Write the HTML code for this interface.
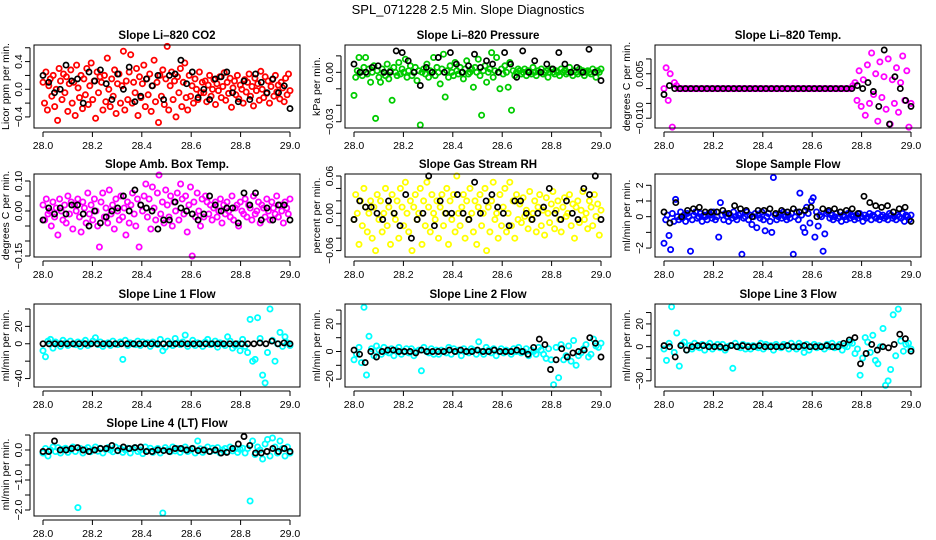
<!DOCTYPE html>
<html><head><meta charset="utf-8"><style>
body{margin:0;background:#fff}
svg{display:block;font-family:"Liberation Sans",Arial,sans-serif}
</style></head><body>
<svg id="c" width="936" height="540" viewBox="0 0 936 540">
<text x="468" y="14" text-anchor="middle" font-size="13">SPL_071228  2.5 Min. Slope Diagnostics</text>
</svg>
<script>
const xTicks=[28.0,28.2,28.4,28.6,28.8,29.0];
const co2Color=[0.1,-0.2,0.25,-0.3,0.05,0.15,-0.1,0.2,-0.25,0.0,-0.45,0.3,0.12,-0.15,0.22,-0.05,0.18,-0.32,0.08,0.28,-0.2,0.1,-0.38,0.35,0.02,-0.12,0.2,-0.28,0.15,-0.08,0.3,-0.22,0.05,0.38,-0.15,0.12,-0.42,0.25,-0.05,0.18,0.1,-0.3,0.2,-0.18,0.45,0.0,-0.25,0.15,-0.1,0.28,-0.35,0.08,0.22,-0.2,0.05,0.55,-0.3,0.12,-0.15,0.25,0.5,-0.2,0.1,-0.05,0.3,-0.38,0.18,-0.12,0.08,0.35,-0.25,0.15,-0.08,0.22,-0.32,0.05,0.42,-0.18,0.1,-0.48,0.2,-0.1,0.28,-0.22,0.15,0.62,-0.3,0.05,0.25,-0.15,0.12,-0.4,0.18,-0.05,0.3,-0.25,0.1,0.38,-0.12,-0.3,0.2,-0.1,0.05,-0.2,0.15,0.0,-0.15,0.25,-0.05,0.1,
 -0.05,0.12,-0.18,0.06,0.2,-0.1,0.0,0.14,-0.22,0.08,-0.02,0.18,-0.12,0.04,0.24,-0.16,0.1,-0.06,0.16,-0.26,0.02,0.12,-0.08,0.2,-0.14,0.06,0.0,-0.2,0.14,-0.04,0.1,0.22,-0.1,0.04,-0.24,0.16,-0.02,0.08,-0.16,0.26,0.0,-0.12,0.18,-0.06,0.12,-0.2,0.04,0.14,-0.1,0.2,-0.04,0.06,-0.14,0.1,0.02,-0.18,0.16,-0.08,0.22,-0.02];
const co2Black=[0.2,0.1,-0.05,0.0,0.35,0.12,0.15,-0.2,0.25,0.12,0.28,0.08,-0.15,0.22,0.0,0.32,-0.18,-0.1,0.15,0.05,0.2,-0.15,0.2,0.22,0.42,0.08,0.25,-0.12,0.0,-0.15,0.15,0.18,0.25,-0.05,-0.18,0.12,-0.15,0.22,0.1,-0.05,0.15,-0.05,0.05,-0.28];
const presColor=[-0.014,-0.003,0.001,0.009,0.0,-0.002,0.003,0.009,-0.001,0.002,-0.006,0.0,0.004,-0.028,0.001,-0.003,-0.006,0.002,0.0,-0.002,0.005,-0.004,0.001,-0.017,0.003,0.0,-0.002,0.006,-0.001,0.002,0.0,0.008,-0.003,0.001,0.004,-0.002,0.0,0.003,-0.005,0.001,-0.032,0.0,0.002,-0.001,0.005,-0.003,0.001,0.0,0.009,-0.002,0.003,0.0,-0.007,0.002,0.011,-0.015,0.001,-0.003,0.004,0.0,-0.002,0.006,0.001,-0.001,0.003,0.0,-0.004,0.002,0.007,-0.001,0.0,0.002,-0.009,0.003,0.0,0.008,-0.002,-0.026,0.001,0.004,-0.006,0.0,0.002,0.012,-0.003,0.001,0.009,0.0,-0.010,0.002,-0.001,0.004,0.0,-0.009,0.006,-0.023,0.001,-0.002,0.0,0.002,
 0.001,-0.001,0.0,0.002,-0.002,0.001,0.0,-0.001,0.003,0.0,-0.002,0.001,0.0,0.002,-0.001,0.0,0.001,-0.003,0.0,0.002,0.0,-0.001,0.001,0.0,-0.002,0.002,0.0,0.001,-0.001,0.0,0.003,0.0,-0.002,0.001,0.0,-0.001,0.002,0.0,0.001,-0.002,0.0,0.001,0.0,-0.001,0.002,0.0,-0.003,0.001,0.0,0.002];
const presBlack=[0.005,0.0,0.0,0.003,0.004,0.0,0.0,0.013,0.012,0.007,0.0,-0.008,0.003,0.0,0.009,0.0,0.012,0.005,0.0,0.004,0.011,0.003,0.007,0.005,0.0,0.012,0.005,-0.003,0.013,0.0,0.007,0.0,0.005,0.002,0.012,0.005,0.0,0.003,0.0,0.014,0.0,-0.005];
const tempColor=[0.0,0.007,-0.004,0.005,-0.013,0.002,0.001,0,0,0,0,0,0,0,0,0,0,0,0,0,0,0,0,0,0,0,0,0,0,0,0,0,0,0,0,0,0,0,0,0,0,0,0,0,0,0,0,0,0,0,0,0,0,0,0,0,0,0,0,0,0,0,0,0,0,0,0,0,0,0,0,0,0,0,0,0,0,0,0,0,0,0,0,0,0,0,0,0,0,0,0,0.001,0.002,-0.004,0.006,-0.006,0.003,-0.009,0.008,-0.005,0.012,-0.002,0.005,-0.011,0.009,-0.003,0.004,-0.007,0.01,-0.012,0.003,-0.005,0.007,-0.008,0.002,0.011,-0.004,0.006,-0.013,-0.005];
const tempBlack=[-0.002,0.001,0,0,0,0,0,0,0,0,0,0,0,0,0,0,0,0,0,0,0,0,0,0,0,0,0,0,0,0,0,0,0,0,0,0,0.001,0.0,0.002,-0.001,-0.006,0.013,-0.012,0.004,0.0,-0.004,-0.006];
const ambColor=[0.02,-0.03,0.04,-0.01,0.0,-0.05,0.03,-0.02,0.01,-0.08,0.04,0.0,-0.03,0.02,-0.04,0.05,-0.01,0.03,-0.06,0.02,0.0,0.04,-0.02,-0.07,0.03,0.01,-0.04,0.06,-0.01,0.02,-0.03,0.04,0.0,-0.05,-0.12,0.03,0.06,-0.02,0.01,-0.04,0.07,-0.01,0.02,-0.06,0.04,0.0,-0.03,0.05,-0.02,0.01,-0.08,0.03,-0.04,0.02,0.06,-0.01,-0.05,0.04,-0.12,0.02,0.0,0.05,0.09,-0.02,0.04,-0.06,0.08,0.01,-0.03,0.06,0.12,-0.01,0.03,-0.04,0.07,0.02,-0.02,0.05,-0.05,0.03,0.0,0.06,-0.03,0.09,0.04,-0.01,0.05,-0.07,0.02,0.08,-0.15,0.03,-0.02,0.06,0.0,-0.05,0.04,-0.02,0.05,0.03,
 -0.01,0.02,-0.03,0.01,0.03,-0.02,0.0,0.04,-0.04,0.02,-0.01,0.03,0.0,-0.02,0.05,-0.03,0.01,0.02,-0.05,0.03,0.0,-0.01,0.04,-0.02,0.02,0.01,-0.03,0.05,-0.01,0.0,0.03,-0.04,0.02,0.01,-0.02,0.04,0.0,-0.03,0.03,0.01,-0.01,0.05,-0.02,0.02,0.0,-0.04,0.03,0.01,-0.01,0.04];
const ambBlack=[-0.03,0.01,-0.01,0.01,-0.01,0.02,0.02,-0.01,-0.05,0.0,-0.04,-0.02,0.0,0.01,0.05,0.0,0.07,0.02,0.01,0.0,-0.06,-0.03,-0.03,0.03,0.01,0.0,-0.01,-0.03,-0.01,0.05,0.02,0.0,0.01,0.01,-0.04,0.06,0.02,0.06,-0.03,0.01,-0.03,0.02,0.02,-0.03];
const rhColor=[-0.01,0.03,0.0,-0.05,0.02,-0.02,0.04,0.01,-0.03,0.0,0.02,-0.04,0.01,-0.06,0.03,-0.01,0.02,-0.03,0.0,0.04,-0.02,0.01,-0.05,0.03,0.0,-0.01,0.02,-0.04,0.04,0.01,-0.02,0.05,0.0,-0.03,0.02,-0.06,0.01,0.03,-0.01,0.0,0.04,-0.05,0.02,-0.02,0.05,0.01,-0.03,0.03,0.0,-0.01,0.02,-0.04,0.01,0.03,-0.02,0.0,0.04,-0.05,0.02,-0.01,0.03,-0.03,0.06,0.0,-0.02,0.01,0.03,-0.04,0.02,-0.01,0.04,0.0,-0.03,0.02,-0.05,0.01,0.03,-0.02,0.0,0.04,-0.06,0.01,-0.03,0.02,0.05,-0.01,0.0,-0.04,0.03,-0.02,0.01,0.04,-0.03,0.0,0.05,-0.02,0.02,-0.04,0.03,-0.01,
 0.015,-0.015,0.025,-0.005,0.005,-0.025,0.035,-0.01,0.0,0.02,-0.03,0.01,0.03,-0.02,0.005,-0.035,0.025,0.0,-0.015,0.015,0.035,-0.025,0.005,0.02,-0.01,-0.03,0.01,0.025,-0.005,0.0,0.03,-0.02,0.015,-0.04,0.01,0.02,-0.015,0.005,0.035,-0.01,0.0,-0.025,0.02,0.01,-0.02,0.03,-0.005,0.015,-0.035,0.005];
const rhBlack=[-0.01,0.02,0.01,0.01,0.0,-0.01,0.02,0.0,-0.02,0.03,-0.04,-0.01,0.0,0.06,-0.02,0.02,0.0,0.0,0.03,0.0,-0.01,0.05,0.0,0.02,0.03,0.01,0.0,-0.02,0.02,0.02,0.0,-0.01,0.0,0.01,0.04,0.0,-0.01,0.02,0.0,-0.01,0.04,0.03,0.06,-0.01];
const flowColor=[-1.7,-0.2,0.1,-1.2,-2.1,0.2,-0.3,1.1,0.0,-0.2,0.3,-0.1,0.1,-0.3,0.2,0.0,-2.2,-0.2,0.1,0.3,-0.1,0.0,0.2,-0.3,0.1,0.0,-0.2,0.2,0.1,-0.1,0.3,-0.2,0.0,-1.3,0.9,0.1,-0.2,0.2,0.0,-0.3,0.1,-0.1,0.3,0.0,-0.2,0.1,0.2,-2.4,-0.1,0.0,0.3,-0.2,0.1,-0.5,0.0,0.2,-0.7,0.1,-0.1,0.3,-0.2,-0.9,0.0,0.2,-0.3,-1.0,2.5,0.1,-0.2,0.0,0.2,-0.1,0.3,0.0,-0.2,0.1,-0.1,0.2,-2.4,0.0,0.3,-0.2,1.5,0.1,-0.7,-1.0,0.6,0.2,-0.4,1.0,1.2,-1.3,0.3,-0.6,0.1,0.0,-2.2,-1.1,0.2,0.3,
 -0.1,0.1,-0.2,0.0,0.2,-0.1,0.0,-0.3,0.1,0.0,-0.2,0.2,-0.1,0.1,0.0,-0.2,0.1,-0.1,0.2,0.0,-0.3,0.1,-0.1,0.0,0.2,-0.2,0.1,0.0,-0.1,0.2,-0.2,0.0,0.1,-0.1,0.0,-0.2,0.2,0.1,-0.1,0.0,-0.2,0.1,0.0,-0.1,0.2,-0.3,0.1,0.0,-0.2,0.1];
const flowBlack=[0.3,-0.4,0.9,0.0,0.4,0.5,0.6,0.3,0.3,0.3,0.4,0.2,0.7,0.5,0.4,0.0,0.4,0.4,0.5,0.2,0.4,0.3,0.5,0.3,0.4,0.6,0.0,0.5,0.4,0.5,0.3,0.4,0.5,0.2,1.3,0.9,0.7,0.6,0.7,0.3,0.5,0.6,-0.3];
const l1Color=[-8,-15,3,5,-5,2,0,-3,4,1,-2,3,0,-1,2,-3,1,4,-2,0,3,7,-1,2,-3,0,1,-2,3,0,-1,2,-18,4,-2,1,0,-1,3,-2,2,0,1,-3,2,0,-1,5,-8,-4,3,0,-2,6,1,-1,2,10,-3,0,4,-2,1,0,-3,2,5,-1,0,3,-4,1,0,-2,8,3,-5,-2,0,-8,5,-3,-10,28,-20,-18,30,6,-36,-45,-10,40,4,-20,0,13,-3,8,1,-2];
const l1Black=[0,0,0,0,0,0,0,0,0,0,0,0,0,0,0,0,0,0,0,0,0,0,0,0,0,0,0,0,0,0,0,0,0,0,0,0,1,0,3,0,1,0];
const l2Color=[-6,-2,3,-8,32,-17,11,2,-3,4,1,-2,3,0,-1,2,-3,1,3,-2,0,2,-1,2,-3,0,1,-14,3,0,-1,2,-2,1,-2,1,0,-1,3,-2,2,0,1,-3,2,0,-1,2,1,-2,7,0,-2,3,1,-1,2,-3,0,2,-1,1,0,-2,2,0,3,-1,0,2,-3,1,0,-2,3,1,-2,-5,2,-6,-24,3,-19,5,-6,-3,4,-7,8,-10,-3,-1,2,5,-4,-2,9,4,3,6];
const l2Black=[1,-2,-8,0,-4,0,1,1,0,0,0,-1,1,0,0,0,0,1,0,1,0,0,1,0,0,1,0,0,0,1,0,-2,3,9,5,-13,-6,2,-4,-1,0,1,10,6,-4];
const l3Color=[-2,-12,3,35,-5,12,-17,2,4,-3,1,-2,3,0,-1,2,-3,1,3,-2,0,2,-1,2,-3,0,1,-19,3,0,-1,2,-2,1,-2,1,0,-1,3,-2,2,0,1,-3,2,0,-1,2,1,-2,3,0,-2,3,1,-5,2,-3,0,2,-1,1,0,-2,2,0,3,-1,0,2,-3,1,0,4,3,-6,-2,-25,-10,8,4,-5,10,-12,-15,0,16,-34,-30,-20,28,-8,33,5,-4,2,3,-2];
const l3Black=[1,0,-9,1,-3,0,1,1,0,0,0,-1,1,0,1,0,0,1,0,0,0,0,1,0,0,1,0,0,0,1,0,0,3,6,8,-15,-6,2,-3,0,-1,2,11,7,-4];
const l4Color=[-0.1,0.05,-0.2,0.0,0.1,-0.05,0.08,-0.1,0.02,0.06,-0.08,0.0,0.1,-0.05,-1.92,0.05,-0.1,0.02,0.08,-0.06,0.0,0.1,-0.04,0.06,-0.1,0.02,0.08,0.0,-0.06,0.1,-0.03,0.05,-0.08,0.0,0.06,-0.1,0.04,0.08,-0.05,0.0,-0.12,0.1,-0.02,0.06,-0.08,0.0,0.05,-0.1,-2.1,0.08,0.0,-0.06,0.1,-0.03,0.05,-0.08,0.02,0.1,-0.05,0.0,0.06,-0.1,0.3,0.04,-0.08,0.0,0.1,-0.05,0.06,-0.02,0.08,-0.1,0.0,0.05,-0.06,0.1,-0.03,0.04,-0.08,0.02,0.06,-0.1,0.05,-1.7,0.3,-0.15,0.1,0.0,-0.3,0.2,0.35,-0.2,0.4,0.1,-0.1,0.3,0.05,-0.2,0.1,-0.1];
const l4Black=[-0.05,-0.05,0.3,0.0,0.0,0.05,0.08,0.0,-0.05,0.0,0.05,0.05,0.15,-0.02,0.1,0.05,0.08,0.1,-0.05,-0.05,0.0,-0.02,-0.05,0.05,0.05,0.0,0.05,-0.02,0.0,-0.05,0.0,-0.1,-0.08,0.05,0.2,0.45,0.15,-0.1,-0.1,-0.05,0.05,-0.05,0.05,-0.05];

const rows=[[45,128],[174,257],[304,387],[433,516]];
const colX0=[43,354,664];
const XW=247;
const panels=[
 {id:'co2',c:0,r:0,title:'Slope Li\u2013820 CO2',ylab:'Licor ppm per min.',d:[0.64,-0.56],ticks:[-0.4,-0.2,0,0.2,0.4,0.6],labs:[[-0.4,'\u22120.4'],[0,'0.0'],[0.4,'0.4']],col:'#ff0000',a:co2Color,b:co2Black},
 {id:'pressure',c:1,r:0,title:'Slope Li\u2013820 Pressure',ylab:'kPa per min.',d:[0.0166,-0.0338],ticks:[0.01,0,-0.01,-0.02,-0.03],labs:[[0,'0.00'],[-0.03,'\u22120.03']],col:'#00cc00',a:presColor,b:presBlack},
 {id:'li-temp',c:2,r:0,title:'Slope Li\u2013820 Temp.',ylab:'degrees C per min.',d:[0.0147,-0.0133],ticks:[0.01,0.005,0,-0.005,-0.01],labs:[[0.005,'0.005'],[-0.01,'\u22120.010']],col:'#ff00ff',a:tempColor,b:tempBlack},
 {id:'amb-temp',c:0,r:1,title:'Slope Amb. Box Temp.',ylab:'degrees C per min.',d:[0.1233,-0.1533],ticks:[0.1,0.05,0,-0.05,-0.1,-0.15],labs:[[0.1,'0.10'],[0,'0.00'],[-0.15,'\u22120.15']],col:'#ff00ff',a:ambColor,b:ambBlack},
 {id:'gas-rh',c:1,r:1,title:'Slope Gas Stream RH',ylab:'percent per min.',d:[0.0632,-0.0703],ticks:[0.06,0.04,0.02,0,-0.02,-0.04,-0.06],labs:[[0.06,'0.06'],[0,'0.00'],[-0.06,'\u22120.06']],col:'#ffff00',a:rhColor,b:rhBlack},
 {id:'sample-flow',c:2,r:1,title:'Slope Sample Flow',ylab:'ml/min per min.',d:[2.72,-2.57],ticks:[2,1,0,-1,-2],labs:[[2,'2'],[1,'1'],[0,'0'],[-2,'\u22122']],col:'#0000ff',a:flowColor,b:flowBlack},
 {id:'line1-flow',c:0,r:2,title:'Slope Line 1 Flow',ylab:'ml/min per min.',d:[45.7,-49.7],ticks:[40,20,0,-20,-40],labs:[[20,'20'],[0,'0'],[-40,'\u221240']],col:'#00ffff',a:l1Color,b:l1Black},
 {id:'line2-flow',c:1,r:2,title:'Slope Line 2 Flow',ylab:'ml/min per min.',d:[34.4,-25.7],ticks:[30,20,10,0,-10,-20],labs:[[20,'20'],[0,'0'],[-20,'\u221220']],col:'#00ffff',a:l2Color,b:l2Black},
 {id:'line3-flow',c:2,r:2,title:'Slope Line 3 Flow',ylab:'ml/min per min.',d:[37.5,-35.4],ticks:[30,20,10,0,-10,-20,-30],labs:[[20,'20'],[0,'0'],[-30,'\u221230']],col:'#00ffff',a:l3Color,b:l3Black},
 {id:'line4-flow',c:0,r:3,title:'Slope Line 4 (LT) Flow',ylab:'ml/min per min.',d:[0.567,-2.2],ticks:[0.5,0,-0.5,-1,-1.5,-2],labs:[[0,'0.0'],[-1,'\u22121.0'],[-2,'\u22122.0']],col:'#00ffff',a:l4Color,b:l4Black}
];
const NS='http://www.w3.org/2000/svg';
const svg=document.getElementById('c');
function mk(tag,attrs,parent){const e=document.createElementNS(NS,tag);for(const k in attrs)e.setAttribute(k,attrs[k]);parent.appendChild(e);return e;}
panels.forEach(p=>{
 const g=mk('g',{},svg);
 
 
 const x0=colX0[p.c],top=rows[p.r][0],bot=rows[p.r][1];
 const X=t=>x0+(t-28)*XW;
 const Y=v=>top+(p.d[0]-v)/(p.d[0]-p.d[1])*(bot-top);
 const L=x0-9,R=x0+XW+10;
 const t=mk('text',{x:(L+R)/2,y:top-6,'text-anchor':'middle','font-size':'11.5','font-weight':'bold'},g);
 t.textContent=p.title;
 
 
 const drawSeries=(arr,color,nm,sw)=>{
  const sg=mk('g',{fill:'none',stroke:color,'stroke-width':sw},g);
  
  
  arr.forEach((v,i)=>{
   const c=mk('circle',{cx:X(28+i/(arr.length-1)).toFixed(1),cy:Y(v).toFixed(1),r:'2.6'},sg);
   
   
  });
 };
 drawSeries(p.a,p.col,p.id+'-series','1.8');
 drawSeries(p.b,'#000',p.id+'-black-series','1.7');
 const box=mk('rect',{x:L,y:top,width:R-L,height:bot-top,fill:'none',stroke:'#000','stroke-width':'1'},g);
 
 
 const xa=mk('g',{},g);
 
 
 mk('line',{x1:X(28),x2:X(29),y1:bot+4,y2:bot+4,stroke:'#000'},xa);
 xTicks.forEach(v=>{
  mk('line',{x1:X(v),x2:X(v),y1:bot+4,y2:bot+9,stroke:'#000'},xa);
  const tl=mk('text',{x:X(v),y:bot+21,'text-anchor':'middle','font-size':'10.5'},xa);
  tl.textContent=v.toFixed(1);
 });
 const ya=mk('g',{},g);
 
 
 mk('line',{x1:L-4,x2:L-4,y1:Y(p.ticks[0]),y2:Y(p.ticks[p.ticks.length-1]),stroke:'#000'},ya);
 p.ticks.forEach(v=>mk('line',{x1:L-9,x2:L-4,y1:Y(v),y2:Y(v),stroke:'#000'},ya));
 p.labs.forEach(([v,s])=>{
  const tl=mk('text',{x:L-12,y:Y(v),'text-anchor':'middle','font-size':'10.5',transform:`rotate(-90 ${L-12} ${Y(v)})`},ya);
  tl.textContent=s;
 });
 const yl=mk('text',{x:L-25,y:(top+bot)/2,'text-anchor':'middle','font-size':'10.5',transform:`rotate(-90 ${L-25} ${(top+bot)/2})`},g);
 yl.textContent=p.ylab;
 
 
});
</script>
</body></html>
